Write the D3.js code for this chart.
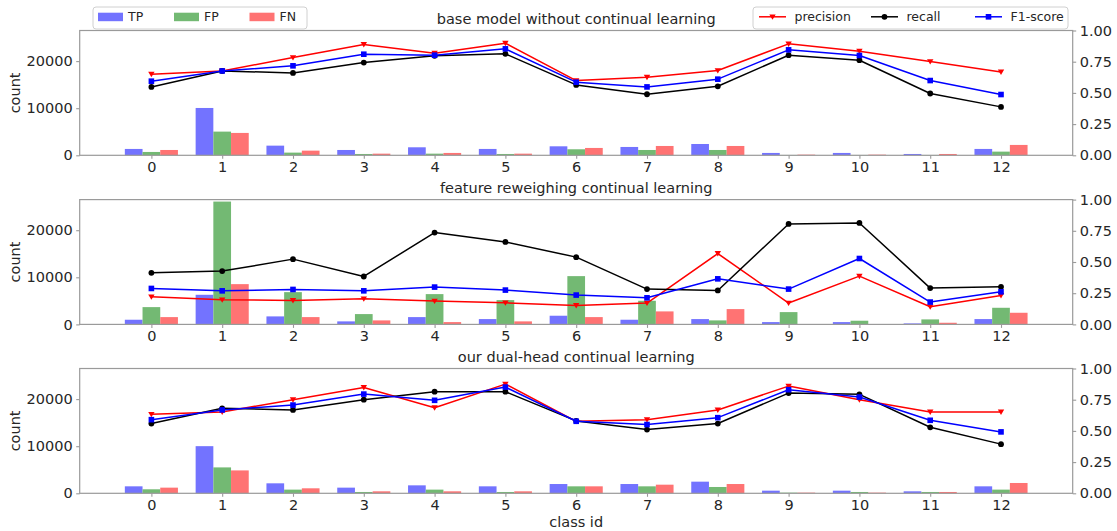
<!DOCTYPE html>
<html>
<head>
<meta charset="utf-8">
<script src="https://cdn.jsdelivr.net/npm/d3@7"></script>
<style>
  body { margin: 0; background: #fff; }
  svg { display: block; font-family: "DejaVu Sans", sans-serif; }
</style>
</head>
<body>
<svg id="chart" width="1117" height="531"></svg>
<script>
// ---------------- data ----------------
const classIds = [0,1,2,3,4,5,6,7,8,9,10,11,12];
const leftTicks = [0, 10000, 20000];
const rightTicks = [0, 0.25, 0.5, 0.75, 1.0];
const panelTitles = [
  "base model without continual learning",
  "feature reweighing continual learning",
  "our dual-head continual learning"
];

// panel 1: base model
const tpBase = [1350,10050,2050,1130,1700,1350,1910,1770,2400,500,500,280,1350];
const fpBase = [710,5030,570,280,350,280,1280,1130,1130,70,70,70,780];
const fnBase = [1130,4750,990,350,500,350,1560,1980,1980,140,140,280,2200];
const precBase = [0.650,0.676,0.783,0.888,0.818,0.898,0.599,0.626,0.679,0.893,0.834,0.751,0.668];
const recBase  = [0.548,0.676,0.660,0.743,0.797,0.813,0.564,0.489,0.553,0.802,0.762,0.495,0.388];
const f1Base   = [0.594,0.676,0.717,0.810,0.802,0.853,0.586,0.548,0.610,0.845,0.800,0.599,0.487];

// panel 2: feature reweighing
const tpFR = [990,6290,1700,640,1550,1130,1840,990,1130,490,490,210,1130];
const fpFR = [3670,26080,6850,2190,6430,5160,10250,5020,850,2610,780,1060,3530];
const fnFR = [1550,8550,1550,850,490,640,1550,2760,3250,70,70,350,2470];
const precFR = [0.221,0.197,0.192,0.205,0.187,0.173,0.152,0.171,0.568,0.171,0.387,0.141,0.232];
const recFR  = [0.413,0.427,0.523,0.384,0.736,0.661,0.539,0.283,0.272,0.805,0.813,0.291,0.301];
const f1FR   = [0.288,0.269,0.280,0.269,0.299,0.275,0.235,0.213,0.365,0.283,0.528,0.179,0.261];

// panel 3: dual-head
const tpDH = [1480,10010,2120,1200,1690,1480,1970,1970,2470,560,560,420,1480];
const fpDH = [850,5500,780,280,780,280,1480,1480,1340,140,280,280,780];
const fnDH = [1200,4860,1060,420,420,420,1480,1830,1970,140,140,280,2190];
const precDH = [0.633,0.652,0.750,0.848,0.686,0.875,0.577,0.590,0.668,0.859,0.750,0.652,0.652];
const recDH  = [0.559,0.681,0.668,0.750,0.814,0.814,0.580,0.511,0.559,0.803,0.793,0.529,0.394];
const f1DH   = [0.590,0.668,0.707,0.795,0.745,0.851,0.577,0.551,0.606,0.830,0.771,0.585,0.492];

const panels = [
  {title: panelTitles[0], tp: tpBase, fp: fpBase, fn: fnBase, prec: precBase, rec: recBase, f1: f1Base},
  {title: panelTitles[1], tp: tpFR, fp: fpFR, fn: fnFR, prec: precFR, rec: recFR, f1: f1FR},
  {title: panelTitles[2], tp: tpDH, fp: fpDH, fn: fnDH, prec: precDH, rec: recDH, f1: f1DH}
];

// ---------------- styles / layout ----------------
const COL = { tp: "#7373ff", fp: "#73b973", fn: "#ff7373", prec: "#ff0000", rec: "#000000", f1: "#0000ff" };
const textCol = "#262626";
const spineCol = "#9a9a9a";
const FS = 14.5;
const plotLeft = 79.7, plotRight = 1072.7;
const panelTops = [30.5, 199.6, 368.5];
const panelH = 124.8;
const barW = 0.25;

const svg = d3.select("#chart");

const x = d3.scaleLinear().domain([-1.0125, 13.0125]).range([plotLeft, plotRight]);

function markerPath(type, cx, cy) {
  if (type === "tri") {
    const s = 3.2;
    return `M${cx - s},${cy - s * 0.75}L${cx + s},${cy - s * 0.75}L${cx},${cy + s * 0.95}Z`;
  }
  return null;
}

function drawMarkers(g, data, xs, ys, type, color) {
  if (type === "circle") {
    g.selectAll(null).data(data).join("circle")
      .attr("cx", (d, i) => xs(classIds[i])).attr("cy", d => ys(d)).attr("r", 2.9)
      .attr("fill", color);
  } else if (type === "square") {
    g.selectAll(null).data(data).join("rect")
      .attr("x", (d, i) => xs(classIds[i]) - 2.8).attr("y", d => ys(d) - 2.8)
      .attr("width", 5.6).attr("height", 5.6).attr("fill", color);
  } else {
    g.selectAll(null).data(data).join("path")
      .attr("d", (d, i) => markerPath("tri", xs(classIds[i]), ys(d)))
      .attr("fill", color);
  }
}

panels.forEach((p, pi) => {
  const top = panelTops[pi], bottom = top + panelH;
  const yL = d3.scaleLinear().domain([0, 26500]).range([bottom, top]);
  const yR = d3.scaleLinear().domain([0, 1]).range([bottom, top]);
  const g = svg.append("g");

  // bars
  const series = [["tp", -barW], ["fp", 0], ["fn", barW]];
  series.forEach(([key, off]) => {
    g.append("g").selectAll("rect").data(p[key]).join("rect")
      .attr("x", (d, i) => x(classIds[i] + off - barW / 2))
      .attr("width", x(barW) - x(0))
      .attr("y", d => yL(d))
      .attr("height", d => yL(0) - yL(d))
      .attr("fill", COL[key]);
  });

  // lines
  const lines = [["prec", "tri"], ["rec", "circle"], ["f1", "square"]];
  lines.forEach(([key, mk]) => {
    const line = d3.line().x((d, i) => x(classIds[i])).y(d => yR(d));
    g.append("path").datum(p[key]).attr("d", line)
      .attr("fill", "none").attr("stroke", COL[key]).attr("stroke-width", 1.5)
      .attr("stroke-linejoin", "round");
    drawMarkers(g.append("g"), p[key], x, yR, mk, COL[key]);
  });

  // spines
  g.append("rect").attr("x", plotLeft).attr("y", top)
    .attr("width", plotRight - plotLeft).attr("height", panelH)
    .attr("fill", "none").attr("stroke", spineCol).attr("stroke-width", 1.2);

  // axes
  const axL = g.append("g").attr("transform", `translate(${plotLeft},0)`)
    .call(d3.axisLeft(yL).tickValues(leftTicks).tickFormat(d3.format("d")).tickSize(3.5).tickPadding(3.5));
  const axR = g.append("g").attr("transform", `translate(${plotRight},0)`)
    .call(d3.axisRight(yR).tickValues(rightTicks).tickFormat(d3.format(".2f")).tickSize(3.5).tickPadding(3.5));
  const axB = g.append("g").attr("transform", `translate(0,${bottom})`)
    .call(d3.axisBottom(x).tickValues(classIds).tickFormat(d3.format("d")).tickSize(3.5).tickPadding(3));
  [axL, axR, axB].forEach(a => {
    a.select(".domain").remove();
    a.selectAll(".tick line").attr("stroke", spineCol).attr("stroke-width", 1.1);
    a.selectAll(".tick text").attr("fill", textCol).style("font-size", FS + "px")
      .style("font-family", "DejaVu Sans");
  });

  // title
  g.append("text").attr("x", (plotLeft + plotRight) / 2).attr("y", top - 6.5)
    .attr("text-anchor", "middle").attr("fill", textCol).style("font-size", FS + "px")
    .text(p.title);

  // y label
  g.append("text").attr("transform", `translate(${20},${(top + bottom) / 2}) rotate(-90)`)
    .attr("text-anchor", "middle").attr("fill", textCol).style("font-size", FS + "px")
    .text("count");
});

// x label
svg.append("text").attr("x", (plotLeft + plotRight) / 2).attr("y", 527)
  .attr("text-anchor", "middle").attr("fill", textCol).style("font-size", FS + "px")
  .text("class id");

// ---------------- legends (panel 1) ----------------
const LFS = 12.5;
const legL = svg.append("g");
legL.append("rect").attr("x", 93).attr("y", 7).attr("width", 214).attr("height", 22).attr("rx", 3)
  .attr("fill", "#fff").attr("fill-opacity", 0.8).attr("stroke", "#d0d0d0");
const barLegend = [["TP", "tp", 98], ["FP", "fp", 174], ["FN", "fn", 249.5]];
barLegend.forEach(([label, key, lx]) => {
  legL.append("rect").attr("x", lx).attr("y", 12.7).attr("width", 25).attr("height", 8.5).attr("fill", COL[key]);
  legL.append("text").attr("x", lx + 30).attr("y", 21.3).attr("fill", textCol)
    .style("font-size", LFS + "px").text(label);
});

const legR = svg.append("g");
legR.append("rect").attr("x", 753).attr("y", 7).attr("width", 315).attr("height", 22).attr("rx", 3)
  .attr("fill", "#fff").attr("fill-opacity", 0.8).attr("stroke", "#d0d0d0");
const lineLegend = [["precision", "prec", "tri", 759], ["recall", "rec", "circle", 871], ["F1-score", "f1", "square", 975]];
lineLegend.forEach(([label, key, mk, lx]) => {
  const cy = 16.8;
  legR.append("line").attr("x1", lx).attr("x2", lx + 27).attr("y1", cy).attr("y2", cy)
    .attr("stroke", COL[key]).attr("stroke-width", 1.5);
  const cx = lx + 13.5;
  if (mk === "circle") legR.append("circle").attr("cx", cx).attr("cy", cy).attr("r", 2.9).attr("fill", COL[key]);
  else if (mk === "square") legR.append("rect").attr("x", cx - 2.8).attr("y", cy - 2.8).attr("width", 5.6).attr("height", 5.6).attr("fill", COL[key]);
  else legR.append("path").attr("d", markerPath("tri", cx, cy)).attr("fill", COL[key]);
  legR.append("text").attr("x", lx + 35.5).attr("y", 21.3).attr("fill", textCol)
    .style("font-size", LFS + "px").text(label);
});
</script>
</body>
</html>
